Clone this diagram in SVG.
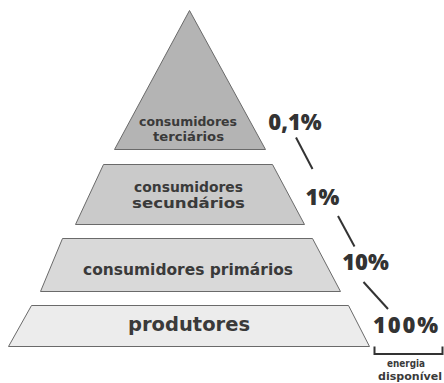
<svg xmlns="http://www.w3.org/2000/svg" width="444" height="383" viewBox="0 0 444 383">
<style>
.lvl{stroke:#6a6a6a;stroke-width:1}
.t{font-family:"DejaVu Sans","Open Sans",sans-serif;font-weight:700;fill:#3a3a3a;text-anchor:middle}
.p{font-family:"Open Sans","Liberation Sans",sans-serif;font-weight:800;fill:#333;text-anchor:middle;font-size:22px}
.c{stroke:#333;stroke-width:2;fill:none}
</style>
<rect width="444" height="383" fill="#fff"/>
<g id="terciarios">
<polygon class="lvl" fill="#b4b4b4" points="189.5,10.5 265.5,149.5 114.5,149.5"/>
<text class="t" font-size="12" x="188" y="126" textLength="98" lengthAdjust="spacingAndGlyphs">consumidores</text>
<text class="t" font-size="12" x="188.5" y="140.5" textLength="71" lengthAdjust="spacingAndGlyphs">terciários</text>
</g>
<g id="secundarios">
<polygon class="lvl" fill="#cacaca" points="103.5,164.5 272.5,164.5 304.5,224.5 75.5,224.5"/>
<text class="t" font-size="13.5" x="188.5" y="192" textLength="109" lengthAdjust="spacingAndGlyphs">consumidores</text>
<text class="t" font-size="13.5" x="188.5" y="207.5" textLength="113" lengthAdjust="spacingAndGlyphs">secundários</text>
</g>
<g id="primarios">
<polygon class="lvl" fill="#d9d9d9" points="62.5,238.5 312.5,238.5 340.5,291.5 40.5,291.5"/>
<text class="t" font-size="15" x="188" y="275" textLength="210" lengthAdjust="spacingAndGlyphs">consumidores primários</text>
</g>
<g id="produtores">
<polygon class="lvl" fill="#ececec" points="31.5,305.5 348.5,305.5 369.5,346.5 8.5,346.5"/>
<text class="t" font-size="19" x="189" y="331" textLength="122" lengthAdjust="spacingAndGlyphs">produtores</text>
</g>
<g id="percentuais">
<text class="p" x="295" y="130">0,1%</text>
<text class="p" x="322.5" y="205">1%</text>
<text class="p" x="365.5" y="270">10%</text>
<text class="p" x="405.5" y="333" textLength="65" lengthAdjust="spacing">100%</text>
</g>
<g id="connectors">
<line class="c" x1="296" y1="137.5" x2="312.5" y2="169"/>
<line class="c" x1="338" y1="216" x2="354.5" y2="246.5"/>
<line class="c" x1="363.5" y1="282" x2="388" y2="309"/>
<path class="c" stroke-width="1.6" d="M374.5,346.5 V354 H442.5 V346.5"/>
</g>
<g id="legenda">
<text class="t" font-size="10" x="406" y="367" fill="#333" textLength="38" lengthAdjust="spacingAndGlyphs">energia</text>
<text class="t" font-size="10" x="410" y="379.5" fill="#333" textLength="64" lengthAdjust="spacingAndGlyphs">disponível</text>
</g>
</svg>
